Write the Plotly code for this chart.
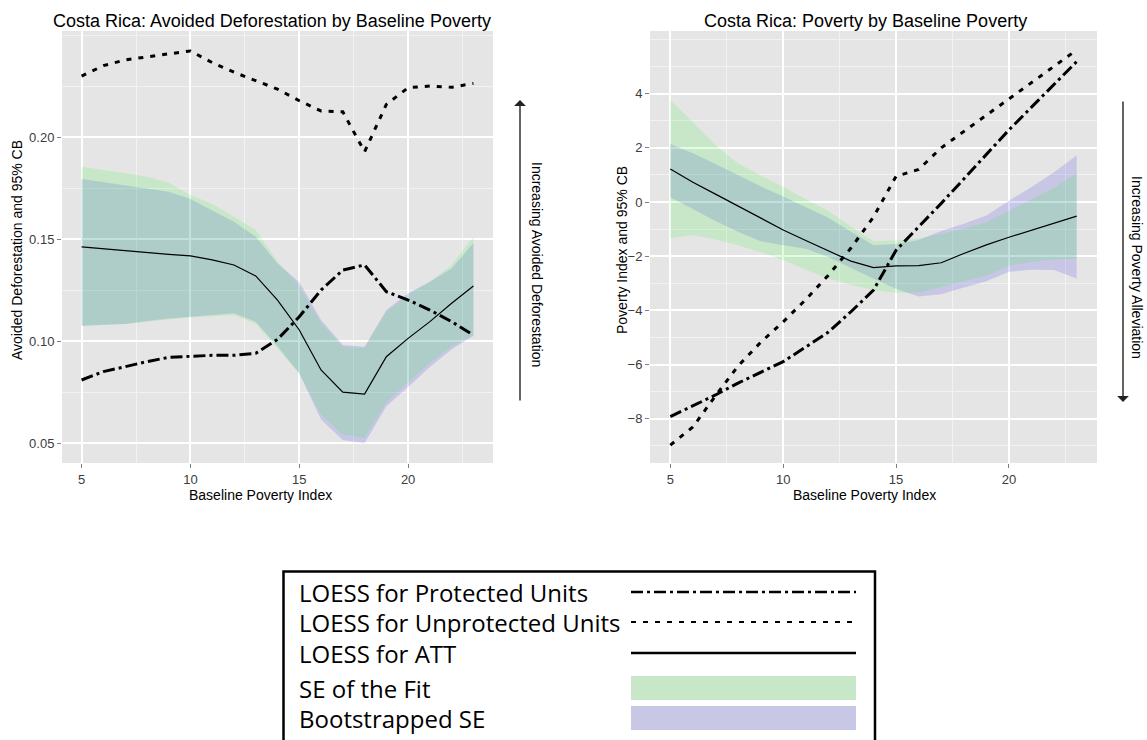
import plotly.graph_objects as go

# ---------------- data ----------------
poverty_index = list(range(5, 24))

# Left panel: avoided deforestation
defor_protected = [0.0809, 0.0850, 0.0874, 0.0899, 0.0920, 0.0926, 0.0930, 0.0930, 0.0940, 0.1008,
                   0.1119, 0.1250, 0.1348, 0.1373, 0.1242, 0.1201, 0.1152, 0.1095, 0.1029]
defor_unprotected = [0.2299, 0.2350, 0.2378, 0.2394, 0.2408, 0.2422, 0.2365, 0.2318, 0.2278, 0.2235,
                     0.2178, 0.2128, 0.2124, 0.1928, 0.2160, 0.2242, 0.2250, 0.2244, 0.2263]
defor_att = [0.1462, 0.1452, 0.1442, 0.1433, 0.1425, 0.1417, 0.1398, 0.1373, 0.1319, 0.1201,
             0.1054, 0.0858, 0.0749, 0.0740, 0.0923, 0.1013, 0.1095, 0.1185, 0.1270]
defor_fit_hi = [0.1855, 0.1840, 0.1822, 0.1805, 0.1776, 0.1716, 0.1672, 0.1609, 0.1544, 0.1390,
                0.1270, 0.1087, 0.0972, 0.0964, 0.1144, 0.1225, 0.1291, 0.1373, 0.1511]
defor_fit_lo = [0.1072, 0.1078, 0.1083, 0.1095, 0.1105, 0.1115, 0.1122, 0.1128, 0.1085, 0.0965,
                0.0838, 0.0640, 0.0542, 0.0526, 0.0700, 0.0795, 0.0893, 0.0974, 0.1030]
defor_boot_hi = [0.1794, 0.1778, 0.1761, 0.1748, 0.1732, 0.1696, 0.1642, 0.1585, 0.1511, 0.1380,
                 0.1290, 0.1103, 0.0980, 0.0972, 0.1152, 0.1234, 0.1291, 0.1356, 0.1480]
defor_boot_lo = [0.1075, 0.1080, 0.1083, 0.1098, 0.1110, 0.1119, 0.1128, 0.1136, 0.1095, 0.0975,
                 0.0842, 0.0615, 0.0515, 0.0499, 0.0680, 0.0775, 0.0873, 0.0960, 0.1025]

# Right panel: poverty
pov_protected = [-7.92, -7.52, -7.12, -6.68, -6.28, -5.89, -5.35, -4.80, -4.05, -3.25,
                 -1.78, -0.92, -0.05, 0.85, 1.75, 2.66, 3.50, 4.35, 5.18]
pov_unprotected = [-8.97, -8.30, -7.15, -6.05, -5.18, -4.42, -3.60, -2.70, -1.70, -0.55,
                   0.95, 1.20, 2.00, 2.60, 3.20, 3.80, 4.40, 5.00, 5.61]
pov_att = [1.22, 0.73, 0.29, -0.14, -0.58, -1.03, -1.42, -1.80, -2.18, -2.42,
           -2.36, -2.35, -2.24, -1.90, -1.58, -1.30, -1.03, -0.77, -0.52]
pov_fit_hi = [3.76, 2.95, 2.10, 1.42, 0.98, 0.56, 0.10, -0.33, -0.90, -1.45,
              -1.42, -1.35, -1.18, -0.98, -0.75, -0.32, 0.10, 0.53, 1.06]
pov_fit_lo = [-1.34, -1.22, -1.38, -1.60, -1.85, -2.14, -2.50, -2.82, -3.05, -3.25,
              -3.35, -3.35, -3.13, -2.92, -2.72, -2.35, -2.20, -2.12, -2.08]
pov_boot_hi = [2.14, 1.80, 1.40, 0.98, 0.58, 0.20, -0.20, -0.58, -1.10, -1.60,
               -1.55, -1.40, -1.07, -0.80, -0.50, 0.05, 0.55, 1.10, 1.73]
pov_boot_lo = [0.18, -0.25, -0.70, -1.10, -1.45, -1.60, -1.72, -2.03, -2.43, -2.83,
               -3.20, -3.49, -3.40, -3.15, -2.92, -2.57, -2.50, -2.51, -2.82]

defor_ticks = [0.05, 0.10, 0.15, 0.20]
defor_ticktext = ["0.05", "0.10", "0.15", "0.20"]
pov_ticks = [-8, -6, -4, -2, 0, 2, 4]
x_ticks = [5, 10, 15, 20]

legend_labels = ["LOESS for Protected Units", "LOESS for Unprotected Units", "LOESS for ATT",
                 "SE of the Fit", "Bootstrapped SE"]

# ---------------- styling ----------------
W, H = 1147, 740
FONT = "Liberation Sans, Arial, Helvetica, sans-serif"
LEGEND_FONT = "Open Sans, Noto Sans, sans-serif"
PANEL_BG = "#E5E5E5"
BOOT_FILL = "rgba(20,20,236,0.14)"
FIT_FILL = "rgba(29,243,29,0.14)"
DASH_PROT = "12px,4px,3px,4px"
DASH_UNPROT = "5px,7px"


def px(x):
    return x / W


def py(y):
    return 1 - y / H


fig = go.Figure()


def add_panel(xa, ya, fit_hi, fit_lo, boot_hi, boot_lo, prot, unprot, att):
    xs = poverty_index
    band_x = xs + xs[::-1]
    fig.add_trace(go.Scatter(x=band_x, y=boot_hi + boot_lo[::-1], fill="toself",
                             fillcolor=BOOT_FILL, line=dict(width=0), mode="lines",
                             hoverinfo="skip", showlegend=False, xaxis=xa, yaxis=ya))
    fig.add_trace(go.Scatter(x=band_x, y=fit_hi + fit_lo[::-1], fill="toself",
                             fillcolor=FIT_FILL, line=dict(width=0), mode="lines",
                             hoverinfo="skip", showlegend=False, xaxis=xa, yaxis=ya))
    fig.add_trace(go.Scatter(x=xs, y=unprot, mode="lines", showlegend=False,
                             line=dict(color="black", width=3, dash=DASH_UNPROT),
                             xaxis=xa, yaxis=ya))
    fig.add_trace(go.Scatter(x=xs, y=prot, mode="lines", showlegend=False,
                             line=dict(color="black", width=3, dash=DASH_PROT),
                             xaxis=xa, yaxis=ya))
    fig.add_trace(go.Scatter(x=xs, y=att, mode="lines", showlegend=False,
                             line=dict(color="black", width=1.2), xaxis=xa, yaxis=ya))


add_panel("x", "y", defor_fit_hi, defor_fit_lo, defor_boot_hi, defor_boot_lo,
          defor_protected, defor_unprotected, defor_att)
add_panel("x2", "y2", pov_fit_hi, pov_fit_lo, pov_boot_hi, pov_boot_lo,
          pov_protected, pov_unprotected, pov_att)

tick_font = dict(family=FONT, size=13, color="#3C3C3C")
common = dict(showgrid=True, gridcolor="white", gridwidth=1.5, zeroline=False, showline=False,
              ticks="outside", ticklen=4, tickwidth=1, tickcolor="#7F7F7F", tickfont=tick_font)

y_dom = [py(463), py(31)]
fig.update_layout(
    width=W, height=H, margin=dict(l=0, r=0, t=0, b=0),
    paper_bgcolor="white", plot_bgcolor=PANEL_BG,
    xaxis=dict(domain=[px(62), px(493)], range=[4.1, 23.9], tickvals=x_ticks, anchor="y",
               minor=dict(tick0=0, dtick=2.5, showgrid=True, gridcolor="#F2F2F2", gridwidth=0.8, ticks=""),
               **common),
    yaxis=dict(domain=y_dom, range=[0.0402, 0.2520], tickvals=defor_ticks, ticktext=defor_ticktext,
               anchor="x",
               minor=dict(tick0=0, dtick=0.025, showgrid=True, gridcolor="#F2F2F2", gridwidth=0.8, ticks=""),
               **common),
    xaxis2=dict(domain=[px(650), px(1097)], range=[4.1, 23.9], tickvals=x_ticks, anchor="y2",
                minor=dict(tick0=0, dtick=2.5, showgrid=True, gridcolor="#F2F2F2", gridwidth=0.8, ticks=""),
                **common),
    yaxis2=dict(domain=y_dom, range=[-9.63, 6.31], tickvals=pov_ticks, anchor="x2",
                minor=dict(tick0=0, dtick=1, showgrid=True, gridcolor="#F2F2F2", gridwidth=0.8, ticks=""),
                **common),
)

ann = []


def text(x, y, s, size, angle=0, family=FONT, color="black", xanchor="center"):
    ann.append(dict(x=px(x), y=py(y), xref="paper", yref="paper", text=s, showarrow=False,
                    textangle=angle, xanchor=xanchor, yanchor="middle",
                    font=dict(family=family, size=size, color=color)))


# panel titles and axis titles
text(272, 21, "Costa Rica: Avoided Deforestation by Baseline Poverty", 18)
text(865, 21, "Costa Rica: Poverty by Baseline Poverty", 18)
text(260, 495, "Baseline Poverty Index", 14)
text(864, 495, "Baseline Poverty Index", 14)
text(17, 250, "Avoided Deforestation and 95% CB", 14, angle=-90)
text(622, 250, "Poverty Index and 95% CB", 14, angle=-90)

# direction arrows with captions
text(537, 264, "Increasing Avoided Deforestation", 14, angle=90)
text(1137, 267, "Increasing Poverty Alleviation", 14, angle=90)
ann.append(dict(x=px(520), y=py(100), xref="paper", yref="paper", ax=0, ay=302, text="",
                showarrow=True, arrowhead=1, arrowsize=1.4, arrowwidth=1.4, arrowcolor="#222"))
ann.append(dict(x=px(1123), y=py(402), xref="paper", yref="paper", ax=0, ay=-302, text="",
                showarrow=True, arrowhead=1, arrowsize=1.4, arrowwidth=1.4, arrowcolor="#222"))

# legend box
legend_rows = [592, 622, 653, 688, 718]
for lab, yy in zip(legend_labels, legend_rows):
    text(297, yy, lab, 24, family=LEGEND_FONT, xanchor="left")

shapes = [
    dict(type="rect", xref="paper", yref="paper", x0=px(283.5), x1=px(875), y0=py(760), y1=py(571.5),
         line=dict(color="black", width=2.5), fillcolor="rgba(0,0,0,0)"),
    dict(type="line", xref="paper", yref="paper", x0=px(631), x1=px(856), y0=py(592), y1=py(592),
         line=dict(color="black", width=2.5, dash="12px,4px,3px,4px")),
    dict(type="line", xref="paper", yref="paper", x0=px(631), x1=px(856), y0=py(622), y1=py(622),
         line=dict(color="black", width=2, dash="5px,7px")),
    dict(type="line", xref="paper", yref="paper", x0=px(631), x1=px(856), y0=py(653), y1=py(653),
         line=dict(color="black", width=2.5)),
    dict(type="rect", xref="paper", yref="paper", x0=px(631), x1=px(856), y0=py(700), y1=py(676),
         line=dict(width=0), fillcolor="#C8E6C8"),
    dict(type="rect", xref="paper", yref="paper", x0=px(631), x1=px(856), y0=py(730), y1=py(706),
         line=dict(width=0), fillcolor="#C8C8E6"),
]

fig.update_layout(annotations=ann, shapes=shapes)
fig.write_html("out.html")
